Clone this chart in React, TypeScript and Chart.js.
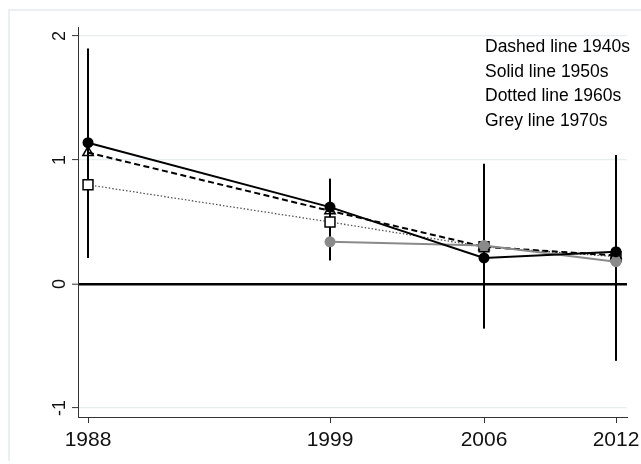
import React, { useEffect, useRef } from "react";
import { Chart, registerables } from "chart.js";

Chart.register(...registerables);

// ---- data ----
const years = [1988, 1999, 2006, 2012];
const yTicks = [-1, 0, 1, 2];
const dashed1940s = [1.06, 0.59, 0.3, 0.23];
const solid1950s = [1.14, 0.62, 0.21, 0.26];
const dotted1960s = [0.8, 0.5, 0.3, 0.22];
const grey1970s: (number | null)[] = [null, 0.34, 0.31, 0.18];

// confidence intervals (vertical bars)
const ciYears = [1988, 1988, 1999, 2006, 2006, 2012, 2012];
const ciLow = [0.21, 0.4, 0.19, -0.36, 0.17, -0.62, -0.1];
const ciHigh = [1.9, 1.65, 0.85, 0.97, 0.44, 1.04, 0.64];

const legendLines = [
  "Dashed line 1940s",
  "Solid line 1950s",
  "Dotted line 1960s",
  "Grey line 1970s",
];

const xMin = 1987.545;
const xMax = 2012.5;
const yMin = -1.073;
const yMax = 2.073;

const FONT = "'Liberation Sans', Arial, Helvetica, sans-serif";

function toPts(vals: (number | null)[]) {
  return years
    .map((x, i) => ({ x, y: vals[i] }))
    .filter((p) => p.y !== null) as { x: number; y: number }[];
}

const decorPlugin = {
  id: "decor",
  beforeDraw(chart: any) {
    const ctx = chart.ctx;
    ctx.save();
    ctx.strokeStyle = "#e4ecee";
    ctx.lineWidth = 1.5;
    ctx.beginPath();
    ctx.moveTo(9, 461);
    ctx.lineTo(9, 10);
    ctx.lineTo(641, 10);
    ctx.stroke();
    ctx.restore();
  },
  afterDraw(chart: any) {
    const ctx = chart.ctx;
    ctx.save();
    ctx.fillStyle = "#000";
    ctx.font = `17.5px ${FONT}`;
    ctx.textAlign = "left";
    ctx.textBaseline = "middle";
    legendLines.forEach((t, i) => {
      ctx.fillText(t, 485, 47 + i * 24.7);
    });
    ctx.restore();
  },
};

export default function App() {
  const ref = useRef<HTMLCanvasElement>(null);

  useEffect(() => {
    if (!ref.current) return;
    Chart.defaults.font.family = FONT;

    const ciSets = ciYears.map((x, i) => ({
      label: "ci" + i,
      data: [
        { x, y: ciLow[i] },
        { x, y: ciHigh[i] },
      ],
      borderColor: "#000",
      borderWidth: 2,
      pointRadius: 0,
      order: 10,
    }));

    const chart = new Chart(ref.current, {
      type: "line",
      data: {
        datasets: [
          ...ciSets,
          {
            label: "Dotted line 1960s",
            data: toPts(dotted1960s),
            borderColor: "#555",
            borderWidth: 1.3,
            borderDash: [1.5, 2],
            pointStyle: "rect",
            pointRadius: 7,
            pointBackgroundColor: "#fff",
            pointBorderColor: "#000",
            pointBorderWidth: 1.5,
            order: 5,
          },
          {
            label: "Dashed line 1940s",
            data: toPts(dashed1940s),
            borderColor: "#000",
            borderWidth: 2,
            borderDash: [6, 3.5],
            pointStyle: "triangle",
            pointRadius: 6,
            pointBackgroundColor: "rgba(255,255,255,0)",
            pointBorderColor: "#000",
            pointBorderWidth: 1.5,
            order: 4,
          },
          {
            label: "Grey line 1970s",
            data: toPts(grey1970s),
            borderColor: "#8a8a8a",
            borderWidth: 2,
            pointStyle: "circle",
            pointRadius: 5.5,
            pointBackgroundColor: "#8a8a8a",
            pointBorderColor: "#8a8a8a",
            pointBorderWidth: 0,
            order: 3,
          },
          {
            label: "Solid line 1950s",
            data: toPts(solid1950s),
            borderColor: "#000",
            borderWidth: 2,
            pointStyle: "circle",
            pointRadius: 5.5,
            pointBackgroundColor: "#000",
            pointBorderColor: "#000",
            pointBorderWidth: 0,
            order: 2,
          },
        ],
      },
      options: {
        responsive: false,
        animation: false,
        events: [],
        layout: { padding: { left: 0, right: 14, top: 27, bottom: 0 } },
        plugins: {
          legend: { display: false },
          tooltip: { enabled: false },
          title: { display: false },
        },
        scales: {
          x: {
            type: "linear",
            min: xMin,
            max: xMax,
            afterBuildTicks: (s: any) => {
              s.ticks = years.map((v) => ({ value: v }));
            },
            afterFit: (s: any) => {
              s.height = 47;
              s.paddingLeft = 0;
              s.paddingRight = 0;
            },
            grid: {
              display: true,
              drawOnChartArea: false,
              drawTicks: true,
              tickLength: 6,
              tickColor: "#333",
              tickWidth: 1,
            },
            border: { display: true, color: "#333", width: 1 },
            ticks: {
              color: "#111",
              font: { size: 21, family: FONT },
              padding: 5,
              maxRotation: 0,
              minRotation: 0,
              autoSkip: false,
              callback: (v: any) => String(v),
            },
          },
          y: {
            type: "linear",
            min: yMin,
            max: yMax,
            afterBuildTicks: (s: any) => {
              s.ticks = yTicks.map((v) => ({ value: v }));
            },
            afterFit: (s: any) => {
              s.width = 78;
              s.paddingTop = 0;
              s.paddingBottom = 0;
            },
            grid: {
              display: true,
              drawOnChartArea: true,
              drawTicks: true,
              tickLength: 6,
              tickColor: "#333",
              tickWidth: 1,
              color: (c: any) => (c.tick && c.tick.value === 0 ? "#000" : "#e6eef0"),
              lineWidth: (c: any) => (c.tick && c.tick.value === 0 ? 2.4 : 1.2),
            },
            border: { display: true, color: "#333", width: 1 },
            ticks: {
              color: "#111",
              font: { size: 18, family: FONT },
              padding: 4,
              minRotation: 90,
              maxRotation: 90,
              crossAlign: "center",
              autoSkip: false,
              callback: (v: any) => String(v),
            },
          },
        },
      },
      plugins: [decorPlugin],
    } as any);

    return () => chart.destroy();
  }, []);

  return (
    <div style={{ position: "fixed", left: 0, top: 0, width: 641, height: 464, background: "#fff" }}>
      <canvas ref={ref} width={641} height={464} style={{ display: "block" }} />
    </div>
  );
}
